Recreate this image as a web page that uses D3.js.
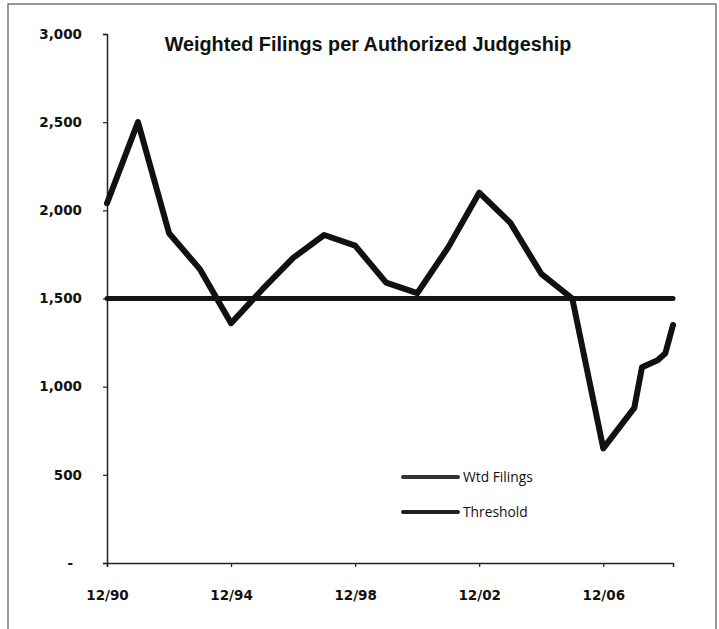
<!DOCTYPE html>
<html>
<head>
<meta charset="utf-8">
<script src="https://cdn.jsdelivr.net/npm/d3@7"></script>
<style>
  html, body { margin: 0; padding: 0; background: #fff; }
  svg { display: block; }
</style>
</head>
<body>
<svg id="chart" width="719" height="629"></svg>
<script>
// ---- data ----
const periods = ["1990-12","1991-12","1992-12","1993-12","1994-12","1995-12","1996-12","1997-12","1998-12","1999-12","2000-12","2001-12","2002-12","2003-12","2004-12","2005-12","2006-12","2007-12","2008-03","2008-06","2008-09","2008-12","2009-03"];
const wtdFilings = [2040,2500,1870,1665,1360,1550,1730,1860,1800,1590,1530,1790,2100,1930,1640,1500,650,880,1110,1130,1150,1190,1350];
const threshold = 1500;
const yTicks = [0,500,1000,1500,2000,2500,3000];
const xTickLabels = ["12/90","12/94","12/98","12/02","12/06"];
const titleText = "Weighted Filings per Authorized Judgeship";
const legendLabels = ["Wtd Filings","Threshold"];

// ---- setup ----
const parse = d3.timeParse("%Y-%m");
const fmtTick = d3.timeFormat("%m/%y");
const dates = periods.map(parse);
const svg = d3.select("#chart");

const plot = {left: 107, right: 673, top: 34, bottom: 563};
const x = d3.scaleTime().domain([dates[0], dates[dates.length-1]]).range([plot.left, plot.right]);
const y = d3.scaleLinear().domain([0, 3000]).range([plot.bottom, plot.top]);

// outer frame
svg.append("rect")
  .attr("x", 8).attr("y", 4).attr("width", 708).attr("height", 640)
  .attr("fill", "none").attr("stroke", "#555").attr("stroke-width", 1.2);

// title
svg.append("text")
  .attr("x", 368).attr("y", 51)
  .attr("text-anchor", "middle")
  .attr("font-family", "Liberation Sans, Arial, sans-serif")
  .attr("font-weight", "bold")
  .attr("font-size", 19.8)
  .attr("fill", "#111")
  .text(titleText);

// y axis
const yAxis = d3.axisLeft(y).tickValues(yTicks).tickSize(4).tickPadding(21)
  .tickFormat(d => d === 0 ? "-" : d3.format(",")(d));
const gy = svg.append("g").attr("transform", `translate(${plot.left},0)`).call(yAxis);
gy.select(".domain").attr("stroke", "#222").attr("stroke-width", 1.5);
gy.selectAll(".tick line").attr("stroke", "#222").attr("stroke-width", 1.2);
gy.selectAll(".tick text")
  .attr("font-family", "DejaVu Sans, sans-serif").attr("font-weight", "bold")
  .attr("font-size", 13.5).attr("fill", "#111")
  .attr("x", d => d === 0 ? -34 : -25);

// x axis
const xTickDates = xTickLabels.map(s => { const [m, yy] = s.split("/"); return parse((+yy < 50 ? 2000 : 1900) + +yy + "-" + m); });
const xAxis = d3.axisBottom(x).tickValues(xTickDates).tickSize(4).tickPadding(23)
  .tickFormat(fmtTick);
const gx = svg.append("g").attr("transform", `translate(0,${plot.bottom})`).call(xAxis);
gx.select(".domain").attr("stroke", "#222").attr("stroke-width", 1.5);
gx.selectAll(".tick line").attr("stroke", "#222").attr("stroke-width", 1.2);
gx.selectAll(".tick text")
  .attr("font-family", "DejaVu Sans, sans-serif").attr("font-weight", "bold")
  .attr("font-size", 13.5).attr("fill", "#111");

// threshold line
svg.append("line")
  .attr("x1", x(dates[0])).attr("x2", x(dates[dates.length-1]))
  .attr("y1", y(threshold)).attr("y2", y(threshold))
  .attr("stroke", "#151515").attr("stroke-width", 5).attr("stroke-linecap", "round");

// wtd filings line
const line = d3.line().x((d, i) => x(dates[i])).y(d => y(d));
svg.append("path")
  .datum(wtdFilings)
  .attr("d", line)
  .attr("fill", "none").attr("stroke", "#111").attr("stroke-width", 6)
  .attr("stroke-linejoin", "round").attr("stroke-linecap", "round");

// legend
const legend = svg.append("g").attr("transform", "translate(403,477)");
legendLabels.forEach((lab, i) => {
  const g = legend.append("g").attr("transform", `translate(0,${i * 35})`);
  g.append("line").attr("x1", 0).attr("x2", 55).attr("y1", 0).attr("y2", 0)
    .attr("stroke", i === 0 ? "#333" : "#222").attr("stroke-width", 4).attr("stroke-linecap", "round");
  g.append("text").attr("x", 60).attr("y", 5)
    .attr("font-family", "Open Sans, sans-serif").attr("font-size", 13.8).attr("fill", "#111")
    .text(lab);
});
</script>
</body>
</html>
